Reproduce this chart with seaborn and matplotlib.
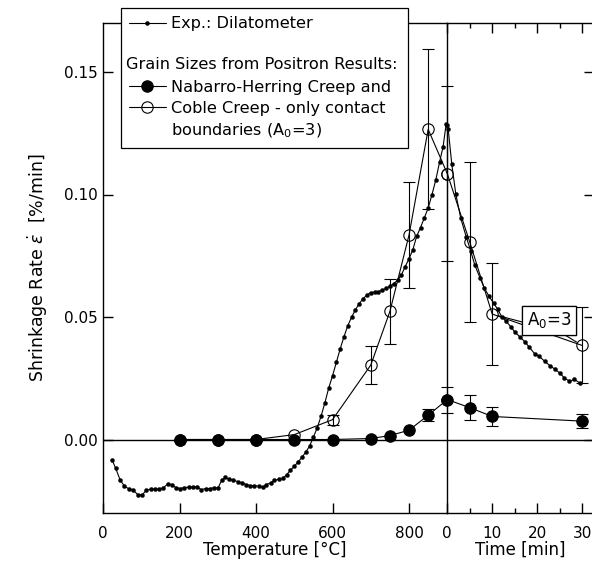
import matplotlib
matplotlib.use("Agg")
import matplotlib.pyplot as plt
from matplotlib.lines import Line2D
from matplotlib.text import Text
from matplotlib.legend_handler import HandlerBase
from matplotlib.ticker import FixedLocator, NullLocator
import seaborn as sns

# ---------------------------------------------------------------------------
# Dilatometer shrinkage rate, heating ramp (temperature in °C)
dil_temp = [24, 33, 45, 56, 67, 79, 91, 102, 113, 125, 136, 147, 158, 169, 180,
            191, 202, 213, 224, 235, 246, 257, 268, 279, 290, 301, 310, 320, 330,
            341, 352, 363, 374, 385, 396, 407, 417, 427, 438, 448, 459, 470, 480,
            490, 500, 510, 520, 530, 540, 550, 560, 570, 580, 590, 600, 610, 620,
            630, 640, 650, 660, 670, 680, 690, 700, 710, 720, 730, 740, 750, 760,
            770, 780, 790, 800, 810, 820, 830, 840, 850, 860, 870, 880, 889, 897]
dil_temp_rate = [-0.0084, -0.0117, -0.0166, -0.0190, -0.0201, -0.0207, -0.0225,
                 -0.0227, -0.0207, -0.0203, -0.0203, -0.0203, -0.0197, -0.0182,
                 -0.0184, -0.0197, -0.0200, -0.0196, -0.0195, -0.0194, -0.0193,
                 -0.0205, -0.0200, -0.0200, -0.0197, -0.0197, -0.0167, -0.0155,
                 -0.0163, -0.0166, -0.0172, -0.0177, -0.0184, -0.0188, -0.0188,
                 -0.0191, -0.0195, -0.0184, -0.0177, -0.0166, -0.0163, -0.0159,
                 -0.0144, -0.0125, -0.0109, -0.0092, -0.0072, -0.0052, -0.0027,
                 0.0010, 0.0048, 0.0095, 0.0150, 0.0210, 0.0260, 0.0315, 0.0370,
                 0.0420, 0.0465, 0.0500, 0.0530, 0.0555, 0.0575, 0.0590, 0.0600,
                 0.0601, 0.0604, 0.0610, 0.0617, 0.0625, 0.0636, 0.0650, 0.0672,
                 0.0706, 0.0738, 0.0775, 0.0830, 0.0865, 0.0905, 0.0945, 0.1000,
                 0.1060, 0.1134, 0.1195, 0.1288]

# Dilatometer shrinkage rate, isothermal hold at 900 °C (time in min)
dil_time = [0.0, 0.2, 1.0, 1.9, 3.0, 4.2, 5.2, 6.1, 7.3, 8.2, 9.3, 10.3, 11.2,
            12.1, 13.1, 14.2, 15.1, 16.3, 17.4, 18.3, 19.5, 20.5, 21.7, 22.8,
            23.9, 25.0, 26.1, 27.2, 28.3, 29.5]
dil_time_rate = [0.1282, 0.1267, 0.1124, 0.1001, 0.0903, 0.0828, 0.0770, 0.0713,
                 0.0659, 0.0620, 0.0584, 0.0557, 0.0532, 0.0502, 0.0482, 0.0459,
                 0.0437, 0.0417, 0.0396, 0.0376, 0.0349, 0.0339, 0.0319, 0.0302,
                 0.0288, 0.0272, 0.0251, 0.0238, 0.0245, 0.0231]

HOLD_TEMP = 900  # heating ends here, the isothermal hold starts at t = 0

# Creep rates calculated from positron grain sizes, heating ramp
pos_temp = [200, 300, 400, 500, 600, 700, 750, 800, 850]
nh_temp_rate = [0.0, 0.0, 0.0, 0.0, 0.0, 0.0004, 0.0016, 0.0038, 0.0099]
nh_temp_err = [0.0, 0.0, 0.0, 0.0, 0.0, 0.0, 0.0, 0.0, 0.0025]
coble_temp_rate = [0.0, 0.0, 0.0, 0.0020, 0.0081, 0.0304, 0.0523, 0.0835, 0.1266]
coble_temp_err = [0.0, 0.0, 0.0, 0.0, 0.0020, 0.0078, 0.0134, 0.0215, 0.0326]

# ... and during the isothermal hold
pos_time = [0, 5, 10, 30]
nh_time_rate = [0.0163, 0.0130, 0.0094, 0.0075]
nh_time_err = [0.0053, 0.0052, 0.0037, 0.0029]
coble_time_rate = [0.1085, 0.0806, 0.0512, 0.0384]
coble_time_err = [0.0356, 0.0326, 0.0208, 0.0155]

y_ticks = [0.00, 0.05, 0.10, 0.15]
y_tick_labels = ["0.00", "0.05", "0.10", "0.15"]
temp_ticks = [0, 200, 400, 600, 800]
time_ticks = [0, 10, 20, 30]
time_minor_ticks = [5, 15, 25]

# ---------------------------------------------------------------------------
sns.set_theme(style="ticks")
plt.rcParams["font.family"] = ["DejaVu Sans"]
plt.rcParams.update({
    "font.size": 11,
    "axes.edgecolor": "black",
    "axes.linewidth": 1.0,
    "xtick.color": "black",
    "ytick.color": "black",
    "text.color": "black",
    "axes.labelcolor": "black",
    "mathtext.fontset": "dejavusans",
})

TICK_FS = 11
LABEL_FS = 12
LEGEND_FS = 11.6

W, H = 592, 561
fig = plt.figure(figsize=(W / 100, H / 100), dpi=100)


def px_rect(left, top, right, bottom):
    return [left / W, 1 - bottom / H, (right - left) / W, (bottom - top) / H]


X_SPLIT = 447.3
ax_T = fig.add_axes(px_rect(103, 23, X_SPLIT, 513))
ax_t = fig.add_axes(px_rect(X_SPLIT, 23, 594, 513))

ylim = (-0.03, 0.17)
for ax in (ax_T, ax_t):
    ax.set_ylim(*ylim)
    ax.set_facecolor("none")
    ax.axhline(0, color="black", lw=1.0, zorder=1)
ax_T.set_xlim(0, HOLD_TEMP)
ax_t.set_xlim(0, 32.67)

line_kw = dict(color="black", lw=0.8, sort=False, estimator=None, legend=False)
dil_kw = dict(marker="o", markersize=2.9, markerfacecolor="black",
              markeredgecolor="black", markeredgewidth=0.3)
open_kw = dict(marker="o", markersize=8.2, markerfacecolor="none",
               markeredgecolor="black", markeredgewidth=0.8)
fill_kw = dict(marker="o", markersize=8.2, markerfacecolor="black",
               markeredgecolor="black", markeredgewidth=0.8)
err_kw = dict(fmt="none", ecolor="black", elinewidth=0.8, capsize=4.2,
              capthick=0.8, zorder=2)


def add_errorbars(ax, x, y, err, clip=True):
    pts = [(a, b, e) for a, b, e in zip(x, y, err) if e > 0]
    xs, ys, es = zip(*pts)
    cont = ax.errorbar(xs, ys, yerr=es, **err_kw)
    if not clip:
        for art in cont.get_children():
            art.set_clip_on(False)


# --- heating ramp (joined to the first value of the hold at 900 °C) --------
sns.lineplot(x=dil_temp + [HOLD_TEMP], y=dil_temp_rate + [dil_time_rate[0]],
             ax=ax_T, **line_kw, **dil_kw, zorder=3)
sns.lineplot(x=pos_temp + [HOLD_TEMP], y=coble_temp_rate + [coble_time_rate[0]],
             ax=ax_T, **line_kw, **open_kw, zorder=4)
sns.lineplot(x=pos_temp + [HOLD_TEMP], y=nh_temp_rate + [nh_time_rate[0]],
             ax=ax_T, **line_kw, **fill_kw, zorder=5)
add_errorbars(ax_T, pos_temp, coble_temp_rate, coble_temp_err)
add_errorbars(ax_T, pos_temp, nh_temp_rate, nh_temp_err)

# --- isothermal hold --------------------------------------------------------
sns.lineplot(x=dil_time, y=dil_time_rate, ax=ax_t, **line_kw, **dil_kw,
             zorder=3, clip_on=False)
sns.lineplot(x=pos_time, y=coble_time_rate, ax=ax_t, **line_kw, **open_kw,
             zorder=4, clip_on=False)
sns.lineplot(x=pos_time, y=nh_time_rate, ax=ax_t, **line_kw, **fill_kw,
             zorder=5, clip_on=False)
add_errorbars(ax_t, pos_time, coble_time_rate, coble_time_err, clip=False)
add_errorbars(ax_t, pos_time, nh_time_rate, nh_time_err, clip=False)

# --- axes, ticks, labels ---------------------------------------------------
ax_T.spines["right"].set_visible(False)
ax_T.set_xticks(temp_ticks)
ax_T.set_xticklabels([str(v) for v in temp_ticks])
ax_T.set_yticks(y_ticks)
ax_T.set_yticklabels(y_tick_labels)
ax_T.tick_params(axis="x", which="major", direction="in", length=7.2, width=1.0,
                 bottom=True, top=False, labelsize=TICK_FS, pad=9)
ax_T.tick_params(axis="y", which="major", direction="in", length=7.2, width=1.0,
                 left=True, right=False, labelsize=TICK_FS, pad=3.8)
ax_T.set_xlabel("Temperature [°C]", fontsize=LABEL_FS)
ax_T.xaxis.set_label_coords(0.5, -0.057)
ax_T.set_ylabel(r"Shrinkage Rate $\dot{\varepsilon}$  [%/min]", fontsize=12.5)
ax_T.yaxis.set_label_coords(-0.155, 0.5)

ax_t.set_xticks(time_ticks)
ax_t.set_xticklabels([str(v) for v in time_ticks])
ax_t.xaxis.set_minor_locator(FixedLocator(time_minor_ticks))
ax_t.set_yticks(y_ticks)
ax_t.yaxis.set_minor_locator(NullLocator())
ax_t.tick_params(axis="x", which="major", direction="in", length=7.2, width=1.0,
                 bottom=True, top=True, labelsize=TICK_FS, pad=9)
ax_t.tick_params(axis="x", which="minor", direction="in", length=3.6, width=1.0,
                 bottom=True, top=True)
ax_t.tick_params(axis="y", which="major", direction="in", length=7.2, width=1.0,
                 left=False, right=True, labelleft=False, labelright=False)
ax_t.set_xlabel("Time [min]", fontsize=LABEL_FS)
ax_t.xaxis.set_label_coords(0.5, -0.057)
ax_t.set_ylabel("")

# A0 label for the Coble curve
for target, rel in ((10, (0.0, 0.35)), (30, (0.68, 0.0))):
    ax_t.annotate("A$_0$=3", xy=(target, coble_time_rate[pos_time.index(target)]),
                  xytext=(22.65, 0.0487), textcoords="data",
                  ha="center", va="center", fontsize=12, zorder=6,
                  bbox=dict(boxstyle="square,pad=0.27", fc="white", ec="black",
                            lw=0.9),
                  arrowprops=dict(arrowstyle="-", color="black", lw=0.8,
                                  shrinkA=0, shrinkB=4.6, relpos=rel),
                  annotation_clip=False)


# --- legend ------------------------------------------------------------------
class HeadingHandler(HandlerBase):
    """Legend row whose text starts in the handle column."""

    def create_artists(self, legend, orig_handle, xdescent, ydescent, width,
                       height, fontsize, trans):
        txt = Text(-xdescent - 2.2, height / 2 - ydescent, orig_handle.get_text(),
                   fontsize=fontsize, ha="left", va="center", transform=trans,
                   family=plt.rcParams["font.family"])
        return [txt]


h_dil = Line2D([], [], color="black", lw=0.8, **dil_kw)
h_blank = Line2D([], [], color="none")
h_head = Text(text="Grain Sizes from Positron Results:")
h_nh = Line2D([], [], color="black", lw=0.8, **fill_kw)
h_cb = Line2D([], [], color="black", lw=0.8, **open_kw)
h_blank2 = Line2D([], [], color="none")

LEG_L, LEG_T, LEG_R, LEG_B = 120.7, 8.3, 408, 147
leg = fig.legend(
    [h_dil, h_blank, h_head, h_nh, h_cb, h_blank2],
    ["Exp.: Dilatometer", " ", " ", "Nabarro-Herring Creep and",
     "Coble Creep - only contact", "boundaries (A$_0$=3)"],
    handler_map={h_head: HeadingHandler()},
    loc="upper left", mode="expand",
    bbox_to_anchor=(LEG_L / W, 1 - LEG_B / H, (LEG_R - LEG_L) / W,
                    (LEG_B - LEG_T) / H),
    bbox_transform=fig.transFigure, borderaxespad=0, frameon=True,
    fancybox=False, shadow=False, framealpha=1, edgecolor="black",
    facecolor="white", handlelength=2.3, handletextpad=0.35, borderpad=0.5,
    labelspacing=0.38, fontsize=LEGEND_FS, numpoints=1,
)
leg.get_frame().set_linewidth(0.9)

fig.savefig("out.png", dpi=100)
